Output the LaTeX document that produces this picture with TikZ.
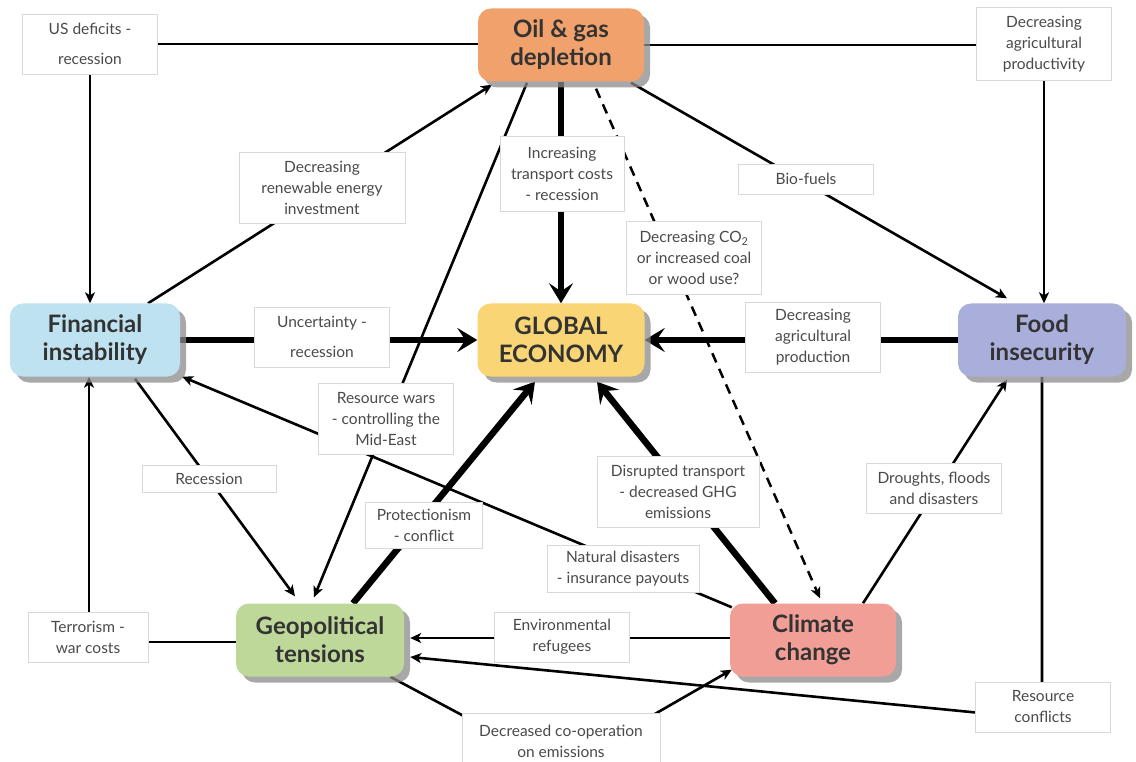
\documentclass[tikz,border=0pt]{standalone}
\usepackage{fontspec}
\setmainfont{Lato}
\usetikzlibrary{arrows.meta,shadows,calc}
\definecolor{cOil}{HTML}{F1A16B}
\definecolor{cGlob}{HTML}{FAD575}
\definecolor{cFin}{HTML}{BEE2F0}
\definecolor{cFood}{HTML}{A9AFDA}
\definecolor{cGeo}{HTML}{BED89A}
\definecolor{cClim}{HTML}{F19E96}
\definecolor{txtdark}{HTML}{333333}
\definecolor{txtlab}{HTML}{4A4A4A}
\definecolor{labborder}{HTML}{D8D8D8}
\newcommand\labfontA{\fontsize{15.5}{21}\selectfont}
\newcommand\labfontB{\fontsize{15.5}{30}\selectfont}
\newcommand\headfont{\fontsize{24}{28}\selectfont\bfseries}
\pgfdeclarelayer{bg}
\pgfsetlayers{bg,main}
\tikzset{
  mainbox/.style={rounded corners=13pt, minimum width=166pt, minimum height=73pt,
    inner sep=0pt, align=center, font=\headfont, text=txtdark,
    drop shadow={shadow xshift=6pt, shadow yshift=-6pt, fill=black!45, opacity=.75}},
  lab/.style={draw=labborder, line width=0.8pt, fill=white, align=center,
    font=\labfontA, text=txtlab, inner sep=0pt},
  plainln/.style={line width=2.6pt},
  thinarrow/.style={line width=2.6pt, -{Stealth[length=11pt,width=10pt,inset=3pt]}},
  thickarrow/.style={line width=6.5pt, -{Stealth[length=20pt,width=24pt,inset=8pt]}},
  dasharrow/.style={line width=2.5pt, dash pattern=on 10pt off 7pt,
    -{Stealth[length=11pt,width=10pt,inset=3pt]}}
}
\begin{document}
\begin{tikzpicture}[x=1pt,y=-1pt]
\useasboundingbox (0,0) rectangle (1136,762);
% main nodes
\node[mainbox, fill=cOil] (oil) at (561,45) {Oil \& gas\\depletion};
\node[mainbox, fill=cGlob, minimum width=167pt] (glob) at (561,340) {GLOBAL\\ECONOMY};
\node[mainbox, fill=cFin, minimum width=170pt] (fin) at (95,340) {Financial\\instability};
\node[mainbox, fill=cFood, minimum width=168pt] (food) at (1042,340) {Food\\insecurity};
\node[mainbox, fill=cGeo, minimum width=168pt] (geo) at (320,640) {Geopolitical\\tensions};
\node[mainbox, fill=cClim] (clim) at (813,640) {Climate\\change};
% label boxes
\node[lab, minimum width=135pt, minimum height=60pt, font=\labfontB] (us) at (90,44) {US deficits -\\recession};
\node[lab, minimum width=166pt, minimum height=71pt] (ren) at (322,188) {Decreasing\\renewable energy\\investment};
\node[lab, minimum width=124pt, minimum height=75pt] (inc) at (562,174) {Increasing\\transport costs\\- recession};
\node[lab, minimum width=135pt, minimum height=73pt] (co2) at (694,258) {Decreasing CO\textsubscript{2}\\or increased coal\\or wood use?};
\node[lab, minimum width=135pt, minimum height=30pt] (bio) at (806,179) {Bio-fuels};
\node[lab, minimum width=135pt, minimum height=73pt] (dap) at (1044,44) {Decreasing\\agricultural\\productivity};
\node[lab, minimum width=135pt, minimum height=60pt, font=\labfontB] (unc) at (322,337) {Uncertainty -\\recession};
\node[lab, minimum width=135pt, minimum height=70pt] (dapr) at (813,337) {Decreasing\\agricultural\\production};
\node[lab, minimum width=135pt, minimum height=71pt] (rw) at (386,419) {Resource wars\\- controlling the\\Mid-East};
\node[lab, minimum width=134pt, minimum height=27pt] (rec) at (209,479) {Recession};
\node[lab, minimum width=117pt, minimum height=46pt] (prot) at (424,525) {Protectionism\\- conflict};
\node[lab, minimum width=162pt, minimum height=71pt] (dis) at (678,492) {Disrupted transport\\- decreased GHG\\emissions};
\node[lab, minimum width=152pt, minimum height=47pt] (nat) at (623,569) {Natural disasters\\- insurance payouts};
\node[lab, minimum width=135pt, minimum height=50pt] (dro) at (934,488) {Droughts, floods\\and disasters};
\node[lab, minimum width=120pt, minimum height=50pt] (ter) at (88,637) {Terrorism -\\war costs};
\node[lab, minimum width=135pt, minimum height=50pt] (env) at (562,637) {Environmental\\refugees};
\node[lab, minimum width=198pt, minimum height=58pt] (coop) at (561,742) {\raisebox{13pt}{\parbox{190pt}{\centering Decreased co-operation\\on emissions}}};
\node[lab, minimum width=135pt, minimum height=50pt] (rc) at (1043,707) {Resource\\conflicts};
\coordinate (rcc) at (1042,719);
\coordinate (coopc) at (561,768);
% connectors
\begin{pgfonlayer}{bg}
\fill[white] (0,0) rectangle (1136,762);
\draw[plainln] (us.east) -- (us.east -| oil.west);
\draw[thinarrow] (us.south) -- (us.south |- fin.north);
\draw[plainln] (oil.east) -- (oil.east -| dap.west);
\draw[thinarrow] (dap.south) -- (dap.south |- food.north);
\draw[thinarrow] ([shift={(53,0)}]fin.north) -- ([shift={(-69,3)}]oil.south);
\draw[thickarrow, line width=6pt] (oil.south) -- (glob.north);
\draw[thinarrow] ([shift={(70,1)}]oil.south) -- ([shift={(-35,-5)}]food.north);
\draw[dasharrow] ([shift={(35,7)}]oil.south) -- ([shift={(7,-5)}]clim.north);
\draw[thickarrow] (food.west) -- (glob.east);
\draw[thickarrow] (fin.east) -- (glob.west);
\draw[thickarrow] ([shift={(33,0)}]geo.north) -- ([shift={(-26,5)}]glob.south);
\draw[thickarrow] ([shift={(-38,0)}]clim.north) -- ([shift={(36,5)}]glob.south);
\draw[thinarrow] ([shift={(-34,1)}]oil.south) -- ([shift={(-6,-6)}]geo.north);
\draw[thinarrow] ([shift={(40,2)}]fin.south) -- ([shift={(-25,-7)}]geo.north);
\draw[thinarrow] ([shift={(2,4)}]clim.north west) -- ([shift={(2,0)}]fin.south east);
\draw[thinarrow] ([yshift=-2pt]geo.west) -| ([xshift=-6pt]fin.south);
\draw[thinarrow] ([yshift=2pt]clim.west) -- ([shift={(6,-2)}]geo.east);
\draw[thinarrow] (food.south) -- (rcc) -- ([shift={(6,17)}]geo.east);
\draw[thinarrow] ([shift={(-14,0)}]geo.south east) -- (coopc) -- ([shift={(2,-7)}]clim.south west);
\draw[thinarrow] ([shift={(50,0)}]clim.north) -- ([shift={(-35,3)}]food.south);
\end{pgfonlayer}
\end{tikzpicture}
\end{document}
